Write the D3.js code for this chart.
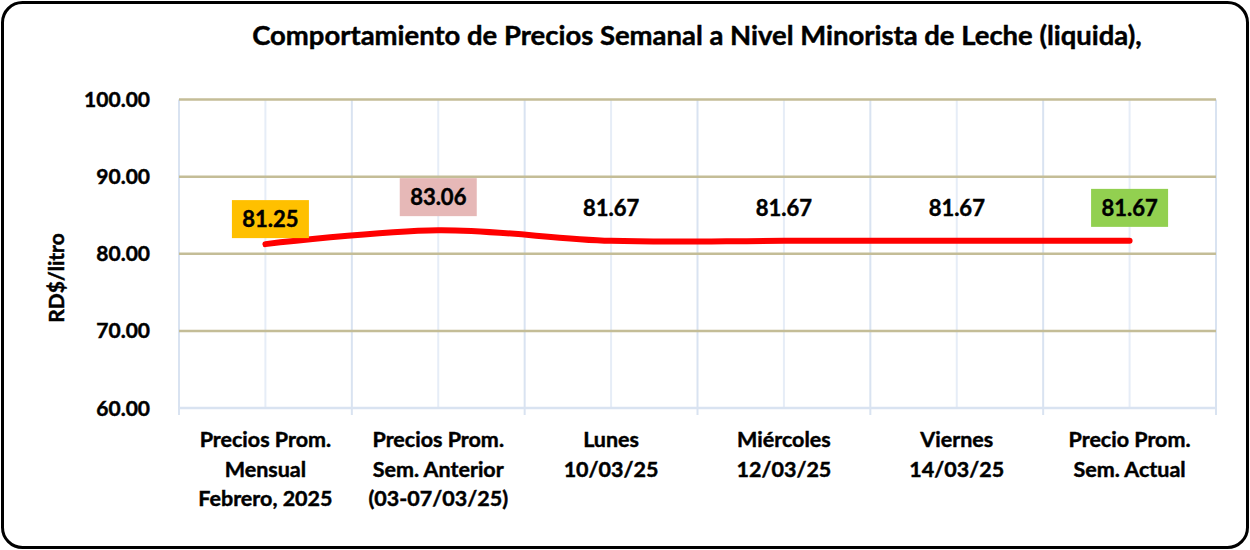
<!DOCTYPE html>
<html>
<head>
<meta charset="utf-8">
<script src="https://cdn.jsdelivr.net/npm/d3@7"></script>
<style>
  html, body { margin: 0; padding: 0; background: #fff; }
  svg { display: block; font-family: Lato, "Open Sans", sans-serif; }
  svg text { stroke: #000; stroke-width: 0.45px; paint-order: stroke; }
</style>
</head>
<body>
<svg id="chart" width="1250" height="550"></svg>
<script>
// ---- data ----
const categories = [
  ["Precios Prom.", "Mensual", "Febrero, 2025"],
  ["Precios Prom.", "Sem. Anterior", "(03-07/03/25)"],
  ["Lunes", "10/03/25"],
  ["Miércoles", "12/03/25"],
  ["Viernes", "14/03/25"],
  ["Precio Prom.", "Sem. Actual"]
];
const prices = [81.25, 83.06, 81.67, 81.67, 81.67, 81.67];
const yTicks = [60, 70, 80, 90, 100];
const titleText = "Comportamiento de Precios Semanal a Nivel Minorista de Leche (liquida),";
const yAxisTitle = "RD$/litro";

// ---- styling (kept separate from data) ----
const labelFills = ["#FFC000", "#E6B8B7", null, null, null, "#92D050"];
const labelNudge = [[5, 8], [0, 0], [0, 0], [0, 0], [0, 0], [0, 0]];

const svg = d3.select("#chart");
const W = 1250, H = 550;
const m = { left: 179, right: 1216, top: 99.5, bottom: 408 };

// frame
svg.append("rect")
  .attr("x", 2.5).attr("y", 2.5)
  .attr("width", W - 5).attr("height", H - 5)
  .attr("rx", 20).attr("ry", 20)
  .attr("fill", "#fff").attr("stroke", "#000").attr("stroke-width", 3);

const x = d3.scaleBand().domain(d3.range(categories.length)).range([m.left, m.right]).padding(0);
const y = d3.scaleLinear().domain([60, 100]).range([m.bottom, m.top]);
const cx = i => x(i) + x.bandwidth() / 2;

// vertical gridlines (category boundaries and centers)
const g = svg.append("g");
const bounds = d3.range(categories.length + 1).map(i => i === categories.length ? m.right : x(i));
g.selectAll("line.vc").data(d3.range(categories.length)).join("line")
  .attr("x1", d => cx(d)).attr("x2", d => cx(d))
  .attr("y1", m.top).attr("y2", m.bottom)
  .attr("stroke", "#E6EDF7").attr("stroke-width", 2);
g.selectAll("line.vb").data(bounds).join("line")
  .attr("x1", d => d).attr("x2", d => d)
  .attr("y1", m.top).attr("y2", m.bottom + 7)
  .attr("stroke", "#D9E3F1").attr("stroke-width", 2);

// horizontal gridlines
g.selectAll("line.h").data(yTicks.filter(t => t > 60)).join("line")
  .attr("x1", m.left).attr("x2", m.right)
  .attr("y1", d => y(d)).attr("y2", d => y(d))
  .attr("stroke", "#C4BD97").attr("stroke-width", 2.5);

// x axis line
g.append("line")
  .attr("x1", m.left).attr("x2", m.right)
  .attr("y1", y(60)).attr("y2", y(60))
  .attr("stroke", "#D9E3F1").attr("stroke-width", 2.5);

// y tick labels
svg.append("g").selectAll("text").data(yTicks).join("text")
  .attr("x", 150).attr("y", d => y(d))
  .attr("dy", "0.36em")
  .attr("text-anchor", "end")
  .attr("font-size", 21).attr("font-weight", 700).attr("fill", "#000")
  .text(d => d3.format(".2f")(d));

// y axis title
svg.append("text")
  .attr("transform", `translate(64,278) rotate(-90)`)
  .attr("text-anchor", "middle")
  .attr("font-size", 21).attr("font-weight", 700)
  .text(yAxisTitle);

// title
const title = svg.append("text")
  .attr("x", 697).attr("y", 45)
  .attr("text-anchor", "middle")
  .attr("font-size", 20).attr("font-weight", 700)
  .text(titleText);
const tl = title.node().getComputedTextLength();
title.attr("font-size", 20 * 890 / tl);

// category labels
const cat = svg.append("g").selectAll("text").data(categories).join("text")
  .attr("x", (d, i) => cx(i)).attr("y", 447)
  .attr("text-anchor", "middle")
  .attr("font-size", 21.5).attr("font-weight", 700);
cat.selectAll("tspan").data(d => d).join("tspan")
  .attr("x", function () { return this.parentNode.getAttribute("x"); })
  .attr("dy", (d, i) => i === 0 ? 0 : 29.5)
  .text(d => d);

// line
const line = d3.line()
  .x((d, i) => cx(i)).y(d => y(d))
  .curve(d3.curveCatmullRom.alpha(0));
svg.append("path")
  .datum(prices)
  .attr("d", line)
  .attr("fill", "none")
  .attr("stroke", "#FF0000")
  .attr("stroke-width", 6)
  .attr("stroke-linecap", "round")
  .attr("stroke-linejoin", "round");

// data labels
const lbl = svg.append("g").selectAll("g").data(prices).join("g")
  .attr("transform", (d, i) => `translate(${cx(i) + labelNudge[i][0]},${y(d) - 33 + labelNudge[i][1]})`);
lbl.each(function (d, i) {
  if (labelFills[i]) {
    d3.select(this).append("rect")
      .attr("x", -38.5).attr("y", -19).attr("width", 77).attr("height", 38)
      .attr("fill", labelFills[i]);
  }
});
lbl.append("text")
  .attr("text-anchor", "middle")
  .attr("y", 8)
  .attr("font-size", 22).attr("font-weight", 700)
  .text(d => d3.format(".2f")(d));
</script>
</body>
</html>
